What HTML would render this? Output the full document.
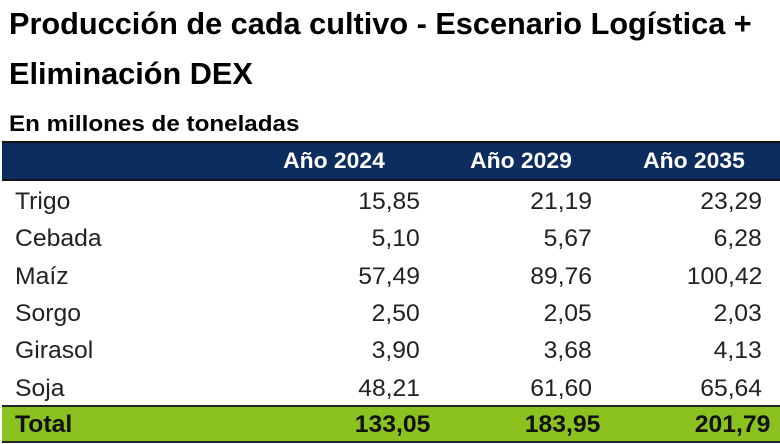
<!DOCTYPE html>
<html><head><meta charset="utf-8"><style>
body{margin:0;width:780px;height:444px;background:#fff;position:relative;overflow:hidden;font-family:"Liberation Sans",sans-serif;}
.t{position:absolute;white-space:nowrap;transform-origin:0 0;}
.r{position:absolute;white-space:nowrap;transform-origin:100% 0;text-align:right;}
.b{font-weight:bold;}
</style></head><body>
<div class="t b" style="left:9px;top:6px;font-size:31px;transform:scaleX(0.99);color:#000">Producción de cada cultivo - Escenario Logística +</div>
<div class="t b" style="left:9px;top:56px;font-size:31px;transform:scaleX(0.99);color:#000">Eliminación DEX</div>
<div class="t b" style="left:9px;top:111px;font-size:22px;transform:scaleX(1.1);color:#000">En millones de toneladas</div>
<div style="position:absolute;left:2px;top:141px;width:778px;height:40px;background:#0c2d5e;border-top:2px solid #111;border-bottom:2px solid #111;box-sizing:border-box"></div>
<div class="r b" style="right:395px;top:148px;font-size:22px;color:#fff;transform:scaleX(1.04)">Año 2024</div>
<div class="r b" style="right:208px;top:148px;font-size:22px;color:#fff;transform:scaleX(1.04)">Año 2029</div>
<div class="r b" style="right:35px;top:148px;font-size:22px;color:#fff;transform:scaleX(1.04)">Año 2035</div>
<div style="position:absolute;left:2px;top:405px;width:778px;height:38px;background:#8cc21f;border-top:2px solid #222;border-bottom:2px solid #222;box-sizing:border-box"></div>
<div id="rows"></div>
<script>
var d=[["Trigo","15,85","21,19","23,29"],["Cebada","5,10","5,67","6,28"],["Maíz","57,49","89,76","100,42"],["Sorgo","2,50","2,05","2,03"],["Girasol","3,90","3,68","4,13"],["Soja","48,21","61,60","65,64"]];
var h="";var st="font-size:24px;color:#222;transform:scaleX(1.03)";
d.forEach(function(r,i){var y=188+i*37.3;
h+='<div class="t" style="left:15px;top:'+y+'px;'+st+'">'+r[0]+'</div>';
h+='<div class="r" style="right:360px;top:'+y+'px;'+st+'">'+r[1]+'</div>';
h+='<div class="r" style="right:188px;top:'+y+'px;'+st+'">'+r[2]+'</div>';
h+='<div class="r" style="right:18px;top:'+y+'px;'+st+'">'+r[3]+'</div>';});
var y=411;var sb="font-size:24px;color:#111;transform:scaleX(1.03)";
h+='<div class="t b" style="left:15px;top:'+y+'px;'+sb+'">Total</div>';
h+='<div class="r b" style="right:350px;top:'+y+'px;'+sb+'">133,05</div>';
h+='<div class="r b" style="right:180px;top:'+y+'px;'+sb+'">183,95</div>';
h+='<div class="r b" style="right:10px;top:'+y+'px;'+sb+'">201,79</div>';
document.getElementById("rows").innerHTML=h;
</script>
</body></html>
